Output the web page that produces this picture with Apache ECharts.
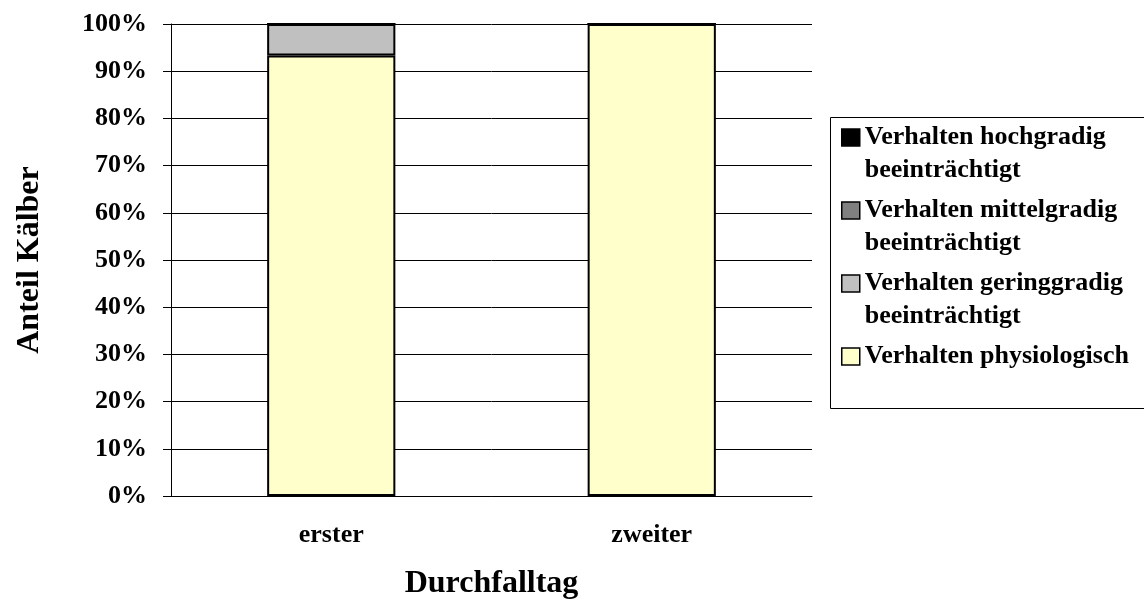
<!DOCTYPE html>
<html>
<head>
<meta charset="utf-8">
<script src="https://cdn.jsdelivr.net/npm/echarts@6/dist/echarts.min.js"></script>
<style>
  html, body { margin: 0; padding: 0; background: #fff; }
  #chart { width: 1144px; height: 605px; }
</style>
</head>
<body>
<div id="chart"></div>
<script>
var categories = ['erster', 'zweiter'];

// Anteil in %, von unten nach oben gestapelt
var physiologisch = [93.3, 100];
var geringgradig = [6.7, 0];
var mittelgradig = [0, 0];
var hochgradig = [0, 0];

var legendLines = {
  'Verhalten hochgradig beeinträchtigt': ['Verhalten hochgradig', 'beeinträchtigt'],
  'Verhalten mittelgradig beeinträchtigt': ['Verhalten mittelgradig', 'beeinträchtigt'],
  'Verhalten geringgradig beeinträchtigt': ['Verhalten geringgradig', 'beeinträchtigt'],
  'Verhalten physiologisch': ['Verhalten physiologisch', '']
};

var font = '"Liberation Serif", "Times New Roman", serif';

var chart = echarts.init(document.getElementById('chart'));

function bar(name, data, color) {
  return {
    name: name,
    type: 'bar',
    stack: 'total',
    barWidth: '40%',
    data: data,
    itemStyle: { color: color, borderColor: '#000', borderWidth: 2 },
    emphasis: { disabled: true }
  };
}

var option = {
  backgroundColor: '#ffffff',
  animation: false,
  grid: { left: 171, right: 332, top: 24, bottom: 105 },
  legend: {
    orient: 'vertical',
    left: 841,
    top: 88,
    padding: 0,
    itemGap: -26,
    itemWidth: 18,
    itemHeight: 17,
    icon: 'rect',
    selectedMode: false,
    data: [
      'Verhalten hochgradig beeinträchtigt',
      'Verhalten mittelgradig beeinträchtigt',
      'Verhalten geringgradig beeinträchtigt',
      'Verhalten physiologisch'
    ],
    // leere erste Zeile, damit das Kästchen auf Höhe der ersten Zeile steht
    formatter: function (name) {
      var l = legendLines[name];
      return '\n' + l[0] + '\n' + l[1];
    },
    itemStyle: { borderColor: '#000', borderWidth: 1.5 },
    textStyle: {
      fontFamily: font, fontWeight: 'bold', fontSize: 26, lineHeight: 33, color: '#000'
    }
  },
  graphic: [{
    type: 'rect',
    shape: { x: 830.5, y: 117.5, width: 400, height: 291 },
    style: { fill: 'none', stroke: '#000', lineWidth: 1 },
    silent: true
  }],
  xAxis: {
    type: 'category',
    data: categories,
    name: 'Durchfalltag',
    nameLocation: 'middle',
    nameGap: 72,
    nameTextStyle: { fontFamily: font, fontWeight: 'bold', fontSize: 32, color: '#000' },
    axisLine: { lineStyle: { color: '#000', width: 1 } },
    axisTick: { length: 8, lineStyle: { color: '#000' } },
    axisLabel: { margin: 26, fontFamily: font, fontWeight: 'bold', fontSize: 26, color: '#000' }
  },
  yAxis: {
    type: 'value',
    min: 0,
    max: 100,
    interval: 10,
    name: 'Anteil Kälber',
    nameLocation: 'middle',
    nameGap: 125,
    nameTextStyle: { fontFamily: font, fontWeight: 'bold', fontSize: 32, color: '#000' },
    axisLine: { show: true, lineStyle: { color: '#000', width: 1 } },
    axisTick: { show: true, length: 8, lineStyle: { color: '#000' } },
    axisLabel: {
      margin: 24, formatter: '{value}%',
      fontFamily: font, fontWeight: 'bold', fontSize: 26, color: '#000'
    },
    splitLine: { lineStyle: { color: '#000', width: 1 } }
  },
  series: [
    bar('Verhalten physiologisch', physiologisch, '#ffffcc'),
    bar('Verhalten geringgradig beeinträchtigt', geringgradig, '#c0c0c0'),
    bar('Verhalten mittelgradig beeinträchtigt', mittelgradig, '#808080'),
    bar('Verhalten hochgradig beeinträchtigt', hochgradig, '#000000')
  ]
};

chart.setOption(option);
</script>
</body>
</html>
